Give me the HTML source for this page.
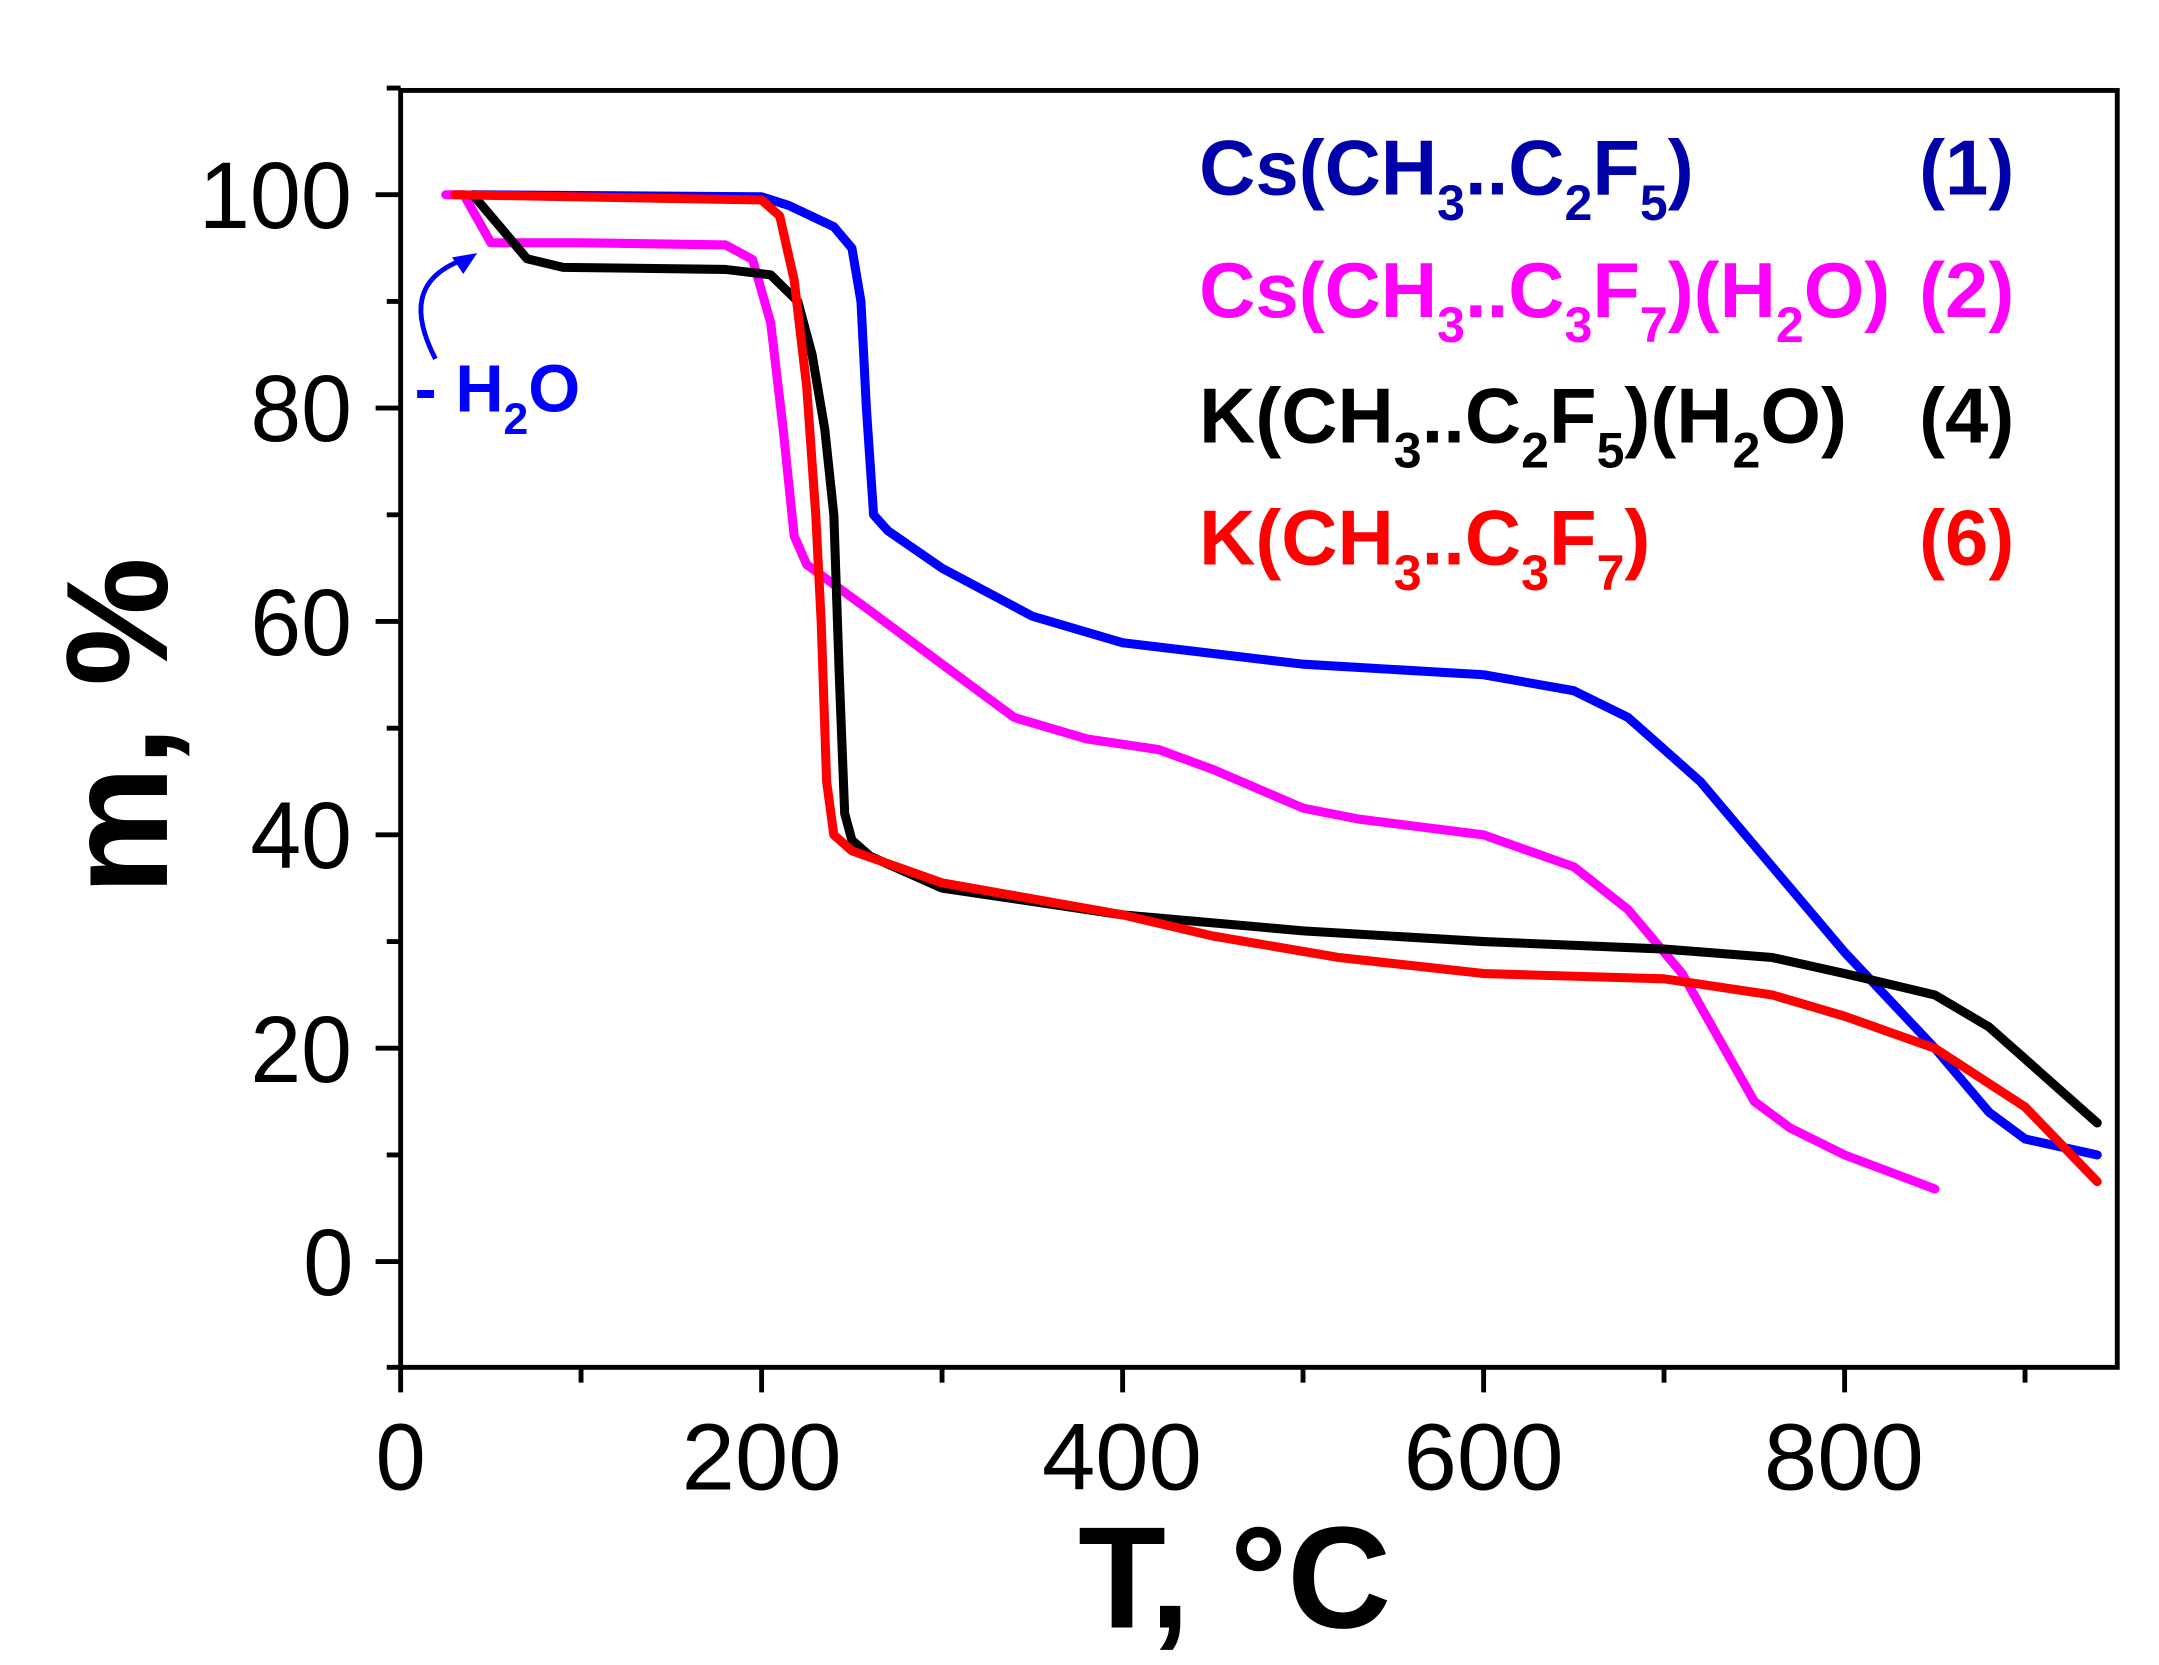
<!DOCTYPE html>
<html><head><meta charset="utf-8"><style>
html,body{margin:0;padding:0;background:#fff;}
svg{display:block;}
text{font-family:"Liberation Sans",Arial,sans-serif;}
</style></head><body>
<svg width="2159" height="1665" viewBox="0 0 1552 1197" preserveAspectRatio="none" xmlns="http://www.w3.org/2000/svg">
<rect width="1552" height="1197" fill="#fff"/>
<g stroke="#000" stroke-width="3.5" fill="none">
<rect x="288" y="65" width="1234" height="918"/>
<path d="M270 140H288M270 293.4H288M270 446.8H288M270 600.2H288M270 753.6H288M270 907H288"/>
<path d="M278 63.3H288M278 216.7H288M278 370.1H288M278 523.5H288M278 676.9H288M278 830.3H288M278 983H288"/>
<path d="M288 983V1001M547.5 983V1001M807 983V1001M1066.5 983V1001M1326 983V1001"/>
<path d="M417.7 983V994M677.2 983V994M936.7 983V994M1196.2 983V994M1455.7 983V994"/>
</g>
<g font-size="68" fill="#000">
<text x="143" y="164" textLength="110" lengthAdjust="spacingAndGlyphs">100</text>
<text x="180" y="317" textLength="73" lengthAdjust="spacingAndGlyphs">80</text>
<text x="180" y="471" textLength="73" lengthAdjust="spacingAndGlyphs">60</text>
<text x="180" y="624" textLength="73" lengthAdjust="spacingAndGlyphs">40</text>
<text x="180" y="778" textLength="73" lengthAdjust="spacingAndGlyphs">20</text>
<text x="218" y="931" textLength="36" lengthAdjust="spacingAndGlyphs">0</text>
</g>
<g font-size="68" fill="#000">
<text x="270" y="1071" textLength="36" lengthAdjust="spacingAndGlyphs">0</text>
<text x="490" y="1071" textLength="115" lengthAdjust="spacingAndGlyphs">200</text>
<text x="749" y="1071" textLength="115" lengthAdjust="spacingAndGlyphs">400</text>
<text x="1009" y="1071" textLength="115" lengthAdjust="spacingAndGlyphs">600</text>
<text x="1268" y="1071" textLength="115" lengthAdjust="spacingAndGlyphs">800</text>
</g>
<text x="775" y="1170" font-size="104" font-weight="bold" textLength="225" lengthAdjust="spacingAndGlyphs">T, °C</text>
<text transform="translate(120,522) rotate(-90)" font-size="104" font-weight="bold" text-anchor="middle">m, %</text>

<g fill="none" stroke-width="6.5" stroke-linejoin="round" stroke-linecap="round">
<path stroke="#0000ff" d="M339.9 140 L547.5 141.5 L567 147.7 L599.4 163 L612.4 178.4 L618.9 216.7 L622.8 293.4 L628 370.1 L638.3 381.6 L677.2 408.5 L742.1 443 L807 462.1 L936.7 477.5 L1066.5 485.1 L1131.4 496.6 L1170.3 515.8 L1222.2 561.8 L1274.1 623.2 L1326 684.6 L1390.9 753.6 L1429.8 799.6 L1455.7 818.8 L1507.6 830.3"/>
<path stroke="#ff00ff" d="M320.4 140 L333.4 140 L346.4 163 L352.9 174.5 L417.7 174.5 L521.6 176.1 L541 186.6 L554 232 L563 308.7 L570.9 385.4 L579.9 405.9 L625.4 439.1 L677.2 477.5 L729.1 515.8 L781.1 531.2 L833 538.9 L872 553.2 L936.7 581 L975.7 588.7 L1066.5 600.2 L1131.4 623.2 L1170.3 653.9 L1209.2 699.9 L1235.2 746 L1261.1 791.9 L1287.1 811.1 L1326 830.3 L1390.9 854.8"/>
<path stroke="#000000" d="M339.9 140 L359.4 163 L378.8 186 L404.8 192.2 L521.6 193.7 L554 197.6 L573.5 216.7 L583.8 255 L592.9 308.7 L599.4 370.1 L603.3 485.1 L607.2 584.9 L612.4 604 L625.4 615.5 L677.2 638.5 L807 657.7 L936.7 669.2 L1066.5 676.9 L1196.2 682.3 L1274.1 688.4 L1326 699.9 L1390.9 715.3 L1429.8 738.3 L1468.7 772.8 L1507.6 807.3"/>
<path stroke="#ff0000" d="M326.9 140 L547.5 143.8 L560.5 155.3 L570.9 201.4 L579.9 278.1 L586.4 370.1 L590.3 446.8 L594.2 561.8 L599.4 600.2 L612.4 611.7 L677.2 634.7 L742.1 646.2 L807 657.7 L871.9 672.9 L962.7 688.4 L1066.5 699.9 L1196.2 703.7 L1274.1 715.3 L1326 730.6 L1390.9 753.6 L1455.7 795.8 L1507.6 849.5"/>
</g>
<path d="M313 258 C 296 225, 298 200, 332 187" stroke="#0000ff" stroke-width="3.5" fill="none"/>
<path d="M343 182 L325 185 L333 197 Z" fill="#0000ff"/>
<text x="298" y="296" font-size="48" font-weight="bold" fill="#0000ff">- H<tspan font-size="32" dy="16">2</tspan><tspan dy="-16">O</tspan></text>

<g font-size="56" font-weight="bold">
<text x="862" y="140" fill="#0000a8">Cs(CH<tspan font-size="36" dy="18">3</tspan><tspan dy="-18">..C</tspan><tspan font-size="36" dy="18">2</tspan><tspan dy="-18">F</tspan><tspan font-size="36" dy="18">5</tspan><tspan dy="-18">)</tspan></text>
<text x="1448" y="140" fill="#0000a8" text-anchor="end">(1)</text>
<text x="862" y="228" fill="#ff00ff">Cs(CH<tspan font-size="36" dy="18">3</tspan><tspan dy="-18">..C</tspan><tspan font-size="36" dy="18">3</tspan><tspan dy="-18">F</tspan><tspan font-size="36" dy="18">7</tspan><tspan dy="-18">)(H</tspan><tspan font-size="36" dy="18">2</tspan><tspan dy="-18">O)</tspan></text>
<text x="1448" y="228" fill="#ff00ff" text-anchor="end">(2)</text>
<text x="862" y="318" fill="#000">K(CH<tspan font-size="36" dy="18">3</tspan><tspan dy="-18">..C</tspan><tspan font-size="36" dy="18">2</tspan><tspan dy="-18">F</tspan><tspan font-size="36" dy="18">5</tspan><tspan dy="-18">)(H</tspan><tspan font-size="36" dy="18">2</tspan><tspan dy="-18">O)</tspan></text>
<text x="1448" y="318" fill="#000" text-anchor="end">(4)</text>
<text x="862" y="406" fill="#ff0000">K(CH<tspan font-size="36" dy="18">3</tspan><tspan dy="-18">..C</tspan><tspan font-size="36" dy="18">3</tspan><tspan dy="-18">F</tspan><tspan font-size="36" dy="18">7</tspan><tspan dy="-18">)</tspan></text>
<text x="1448" y="406" fill="#ff0000" text-anchor="end">(6)</text>
</g>
</svg>
</body></html>
